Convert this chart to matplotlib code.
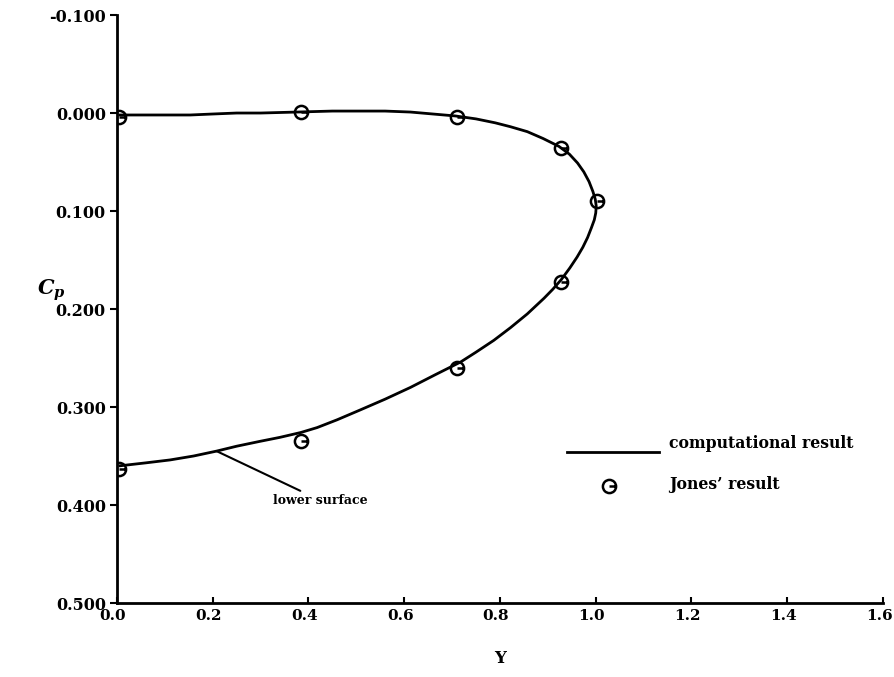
import numpy as np
import matplotlib
matplotlib.use("Agg")
import matplotlib.pyplot as plt
import matplotlib.transforms as mtransforms
from matplotlib.path import Path
from matplotlib.ticker import FormatStrFormatter

plt.rcParams["font.family"] = ["DejaVu Serif"]
plt.rcParams["font.weight"] = "bold"
plt.rcParams["mathtext.fontset"] = "dejavuserif"
plt.rcParams["axes.unicode_minus"] = False

# Calculo numerico (curva continua: extrados y luego intrados)
y_calc = [0.006, 0.060, 0.111, 0.153, 0.200, 0.250, 0.300, 0.376, 0.450, 0.515,
          0.560, 0.613, 0.660, 0.707, 0.750, 0.790, 0.822, 0.857, 0.890, 0.923,
          0.945, 0.962, 0.975, 0.986, 0.994, 0.999, 1.001, 1.000, 0.997, 0.991,
          0.983, 0.973, 0.961, 0.946, 0.928, 0.910, 0.892, 0.857, 0.822, 0.787,
          0.750, 0.718, 0.665, 0.613, 0.560, 0.508, 0.460, 0.418, 0.384, 0.340,
          0.299, 0.250, 0.208, 0.160, 0.111, 0.060, 0.006]
cp_calc = [0.002, 0.002, 0.002, 0.002, 0.001, 0.000, 0.000, -0.001, -0.002, -0.002,
           -0.002, -0.001, 0.001, 0.003, 0.006, 0.010, 0.014, 0.019, 0.026, 0.034,
           0.042, 0.051, 0.060, 0.070, 0.080, 0.088, 0.095, 0.102, 0.109, 0.117,
           0.127, 0.137, 0.147, 0.158, 0.170, 0.180, 0.189, 0.205, 0.219, 0.232,
           0.244, 0.254, 0.267, 0.280, 0.292, 0.303, 0.313, 0.321, 0.326, 0.331,
           0.335, 0.340, 0.345, 0.350, 0.354, 0.357, 0.360]

# Resultados de Jones
y_jones = [0.005, 0.385, 0.710, 0.928, 1.002, 0.928, 0.710, 0.385, 0.005]
cp_jones = [0.004, -0.001, 0.004, 0.036, 0.090, 0.172, 0.260, 0.335, 0.363]

y_ticks = [-0.1, 0.0, 0.1, 0.2, 0.3, 0.4, 0.5]
x_ticks = [0.0, 0.2, 0.4, 0.6, 0.8, 1.0, 1.2, 1.4, 1.6]

# Marcador: circulo con raya horizontal hacia la derecha
circulo = Path.unit_circle()
raya = Path([(0.0, 0.0), (1.0, 0.0)], [Path.MOVETO, Path.LINETO])
marcador = Path.make_compound_path(circulo, raya)

fig = plt.figure(figsize=(8.95, 6.77), dpi=100)
ax = fig.add_axes([0.1307, 0.1093, 0.8559, 0.8685])

ax.plot(y_calc, cp_calc, color="black", lw=2.0, solid_joinstyle="round")
ax.plot(y_jones, cp_jones, linestyle="none", marker=marcador, markersize=9.5,
        markerfacecolor="none", markeredgecolor="black", markeredgewidth=1.8)

ax.set_xlim(0.0, 1.6)
ax.set_ylim(0.5, -0.1)
ax.set_xticks(x_ticks)
ax.set_yticks(y_ticks)
ax.xaxis.set_major_formatter(FormatStrFormatter("%.1f"))
ax.yaxis.set_major_formatter(FormatStrFormatter("%.3f"))
ax.tick_params(axis="x", direction="in", length=4, width=1.5, labelsize=11, pad=4)
ax.tick_params(axis="y", direction="out", length=5, width=1.5, labelsize=11.5, pad=3)

# etiquetas del eje x un poco a la izquierda de cada marca
desplazamiento = mtransforms.ScaledTranslation(-4 / 100, 0, fig.dpi_scale_trans)
for etiqueta in ax.get_xticklabels():
    etiqueta.set_transform(etiqueta.get_transform() + desplazamiento)

for lado in ["top", "right"]:
    ax.spines[lado].set_visible(False)
for lado in ["left", "bottom"]:
    ax.spines[lado].set_linewidth(2.0)

ax.set_xlabel("Y", fontsize=12, fontweight="bold", labelpad=20)
ax.set_ylabel(r"$\mathbfit{C}_{\mathbfit{p}}$", fontsize=15, rotation=0)
ax.yaxis.set_label_coords(-0.085, 0.51)

# Leyenda dibujada a mano
ax.plot([0.941, 1.132], [0.346, 0.346], color="black", lw=2.0)
ax.text(1.153, 0.346, "computational result", fontsize=11.3, va="bottom")
ax.plot([1.027], [0.381], linestyle="none", marker=marcador, markersize=9.5,
        markerfacecolor="none", markeredgecolor="black", markeredgewidth=1.8)
ax.text(1.153, 0.379, "Jones\u2019 result", fontsize=11.3, va="center")

ax.annotate("lower surface", xy=(0.208, 0.345), xytext=(0.325, 0.395),
            fontsize=9, va="center", ha="left",
            arrowprops=dict(arrowstyle="-", color="black", lw=1.5,
                            shrinkA=0, shrinkB=0))

fig.savefig("out.png", dpi=100)
